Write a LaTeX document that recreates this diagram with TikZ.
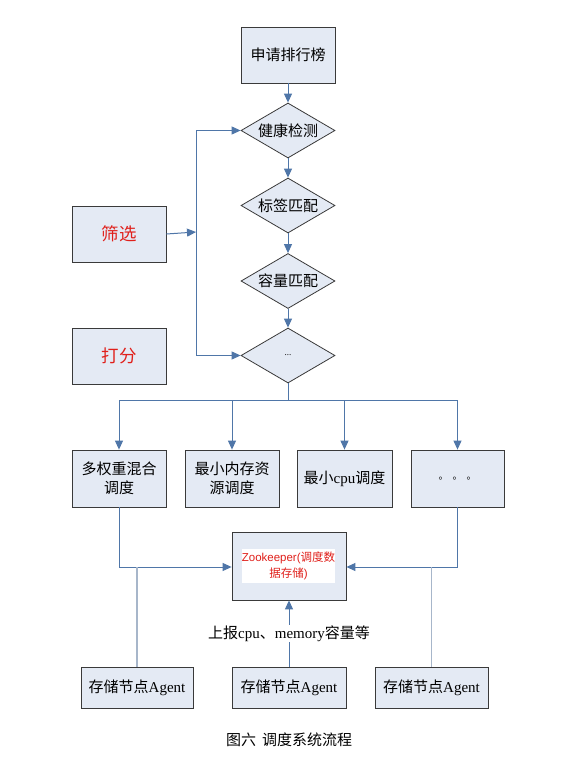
\documentclass[tikz,border=0pt]{standalone}
\usepackage{fontspec}
\setmainfont{Liberation Serif}
\newfontfamily\cjk{Noto Sans CJK SC}
\newfontfamily\zkfont{Liberation Sans}
\usetikzlibrary{shapes.geometric,arrows.meta}
\definecolor{boxfill}{HTML}{E4EAF4}
\definecolor{boxline}{HTML}{3A3A3A}
\definecolor{conn}{HTML}{4F76A8}
\definecolor{connlight}{HTML}{A7B6CA}
\definecolor{redtxt}{HTML}{E0201B}
\begin{document}
\begin{tikzpicture}[x=1pt,y=-1pt,
  boxnode/.style={draw=boxline,fill=boxfill,line width=0.8pt,rectangle,inner sep=0pt,align=center,font=\fontsize{15}{19}\selectfont},
  decide/.style={draw=boxline,fill=boxfill,line width=0.8pt,diamond,shape aspect=1.7,inner sep=0pt,minimum width=94pt,minimum height=55pt,font=\fontsize{15}{18}\selectfont\cjk},
  arr/.style={draw=conn,line width=1pt,-{Triangle[length=9pt,width=8pt]}},
  ln/.style={draw=conn,line width=1pt},
  lnlight/.style={draw=connlight,line width=1.3pt}]
\useasboundingbox (0,0) rectangle (578,781);
\fill[white] (0,0) rectangle (578,781);

% top
\node[boxnode,minimum width=94pt,minimum height=56pt] (apply) at (288,55) {\cjk 申请排行榜};
\node[decide] (d1) at (288,130.5) {健康检测};
\node[decide] (d2) at (288,205.5) {标签匹配};
\node[decide] (d3) at (288,281) {容量匹配};
\node[decide] (d4) at (288,355.5) {\fontsize{9}{10}\selectfont\rmfamily ...};

\node[boxnode,minimum width=94pt,minimum height=56pt,text=redtxt,font=\fontsize{17.5}{20}\selectfont\cjk] (filter) at (119,234) {筛选};
\node[boxnode,minimum width=94pt,minimum height=56pt,text=redtxt,font=\fontsize{17.5}{20}\selectfont\cjk] (score) at (119,356) {打分};

\draw[arr] (apply) -- (d1);
\draw[arr] (d1) -- (d2);
\draw[arr] (d2) -- (d3);
\draw[arr] (d3) -- (d4);

\coordinate (vtop) at (196,130.5);
\coordinate (vbot) at (196,355.5);
\coordinate (vmid) at (196,232);
\draw[ln] (vtop) -- (vbot);
\draw[arr] (vtop) -- (d1.west);
\draw[arr] (vbot) -- (d4.west);
\draw[arr] (filter.east) -- (vmid);

% strategies
\node[boxnode,minimum width=94pt,minimum height=57pt] (s1) at (119,478.5) {\cjk 多权重混合\\\cjk 调度};
\node[boxnode,minimum width=94pt,minimum height=57pt] (s2) at (232,478.5) {\cjk 最小内存资\\\cjk 源调度};
\node[boxnode,minimum width=95pt,minimum height=57pt] (s3) at (344.5,478.5) {{\cjk 最小}cpu{\cjk 调度}};
\node[boxnode,minimum width=93pt,minimum height=57pt] (s4) at (457.5,478.5) {\fontsize{10}{12}\selectfont\cjk 。\hspace{4pt}。\hspace{4pt}。};

\coordinate (bus) at (288,400);
\draw[ln] (d4.south) -- (bus);
\draw[ln] (119,400) -- (457.5,400);
\draw[arr] (119,400) -- (s1.north);
\draw[arr] (232,400) -- (s2.north);
\draw[arr] (344.5,400) -- (s3.north);
\draw[arr] (457.5,400) -- (s4.north);

% zookeeper
\node[boxnode,minimum width=114pt,minimum height=68pt] (zk) at (289,566) {};
\node[fill=white,inner sep=0pt,minimum width=93pt,minimum height=34pt,align=center,text=redtxt,font=\fontsize{11.5}{16}\selectfont] (zktext) at (288.5,566) {{\zkfont Zookeeper(}{\cjk 调度数}\\{\cjk 据存储}{\zkfont )}};

\coordinate (lj) at (119,567);
\coordinate (rj) at (457.5,567);
\draw[arr] (s1.south) |- (zk.west |- lj);
\draw[arr] (s4.south) |- (zk.east |- rj);

% agents
\node[boxnode,minimum width=112pt,minimum height=41pt] (a1) at (137,687.5) {{\cjk 存储节点}Agent};
\node[boxnode,minimum width=114pt,minimum height=41pt] (a2) at (289,687.5) {{\cjk 存储节点}Agent};
\node[boxnode,minimum width=113pt,minimum height=41pt] (a3) at (431.5,687.5) {{\cjk 存储节点}Agent};

\draw[lnlight] (a1.north) -- (a1.north |- lj);
\draw[lnlight] (a3.north) -- (a3.north |- rj);
\draw[arr] (a2.north) -- node[fill=white,inner sep=1pt,font=\fontsize{15}{18}\selectfont] (lbl) {{\cjk 上报}cpu{\cjk 、}memory{\cjk 容量等}} (zk.south);

\node[font=\fontsize{15}{18}\selectfont\cjk] (cap) at (289,740) {图六\hspace{6pt}调度系统流程};
\end{tikzpicture}
\end{document}
